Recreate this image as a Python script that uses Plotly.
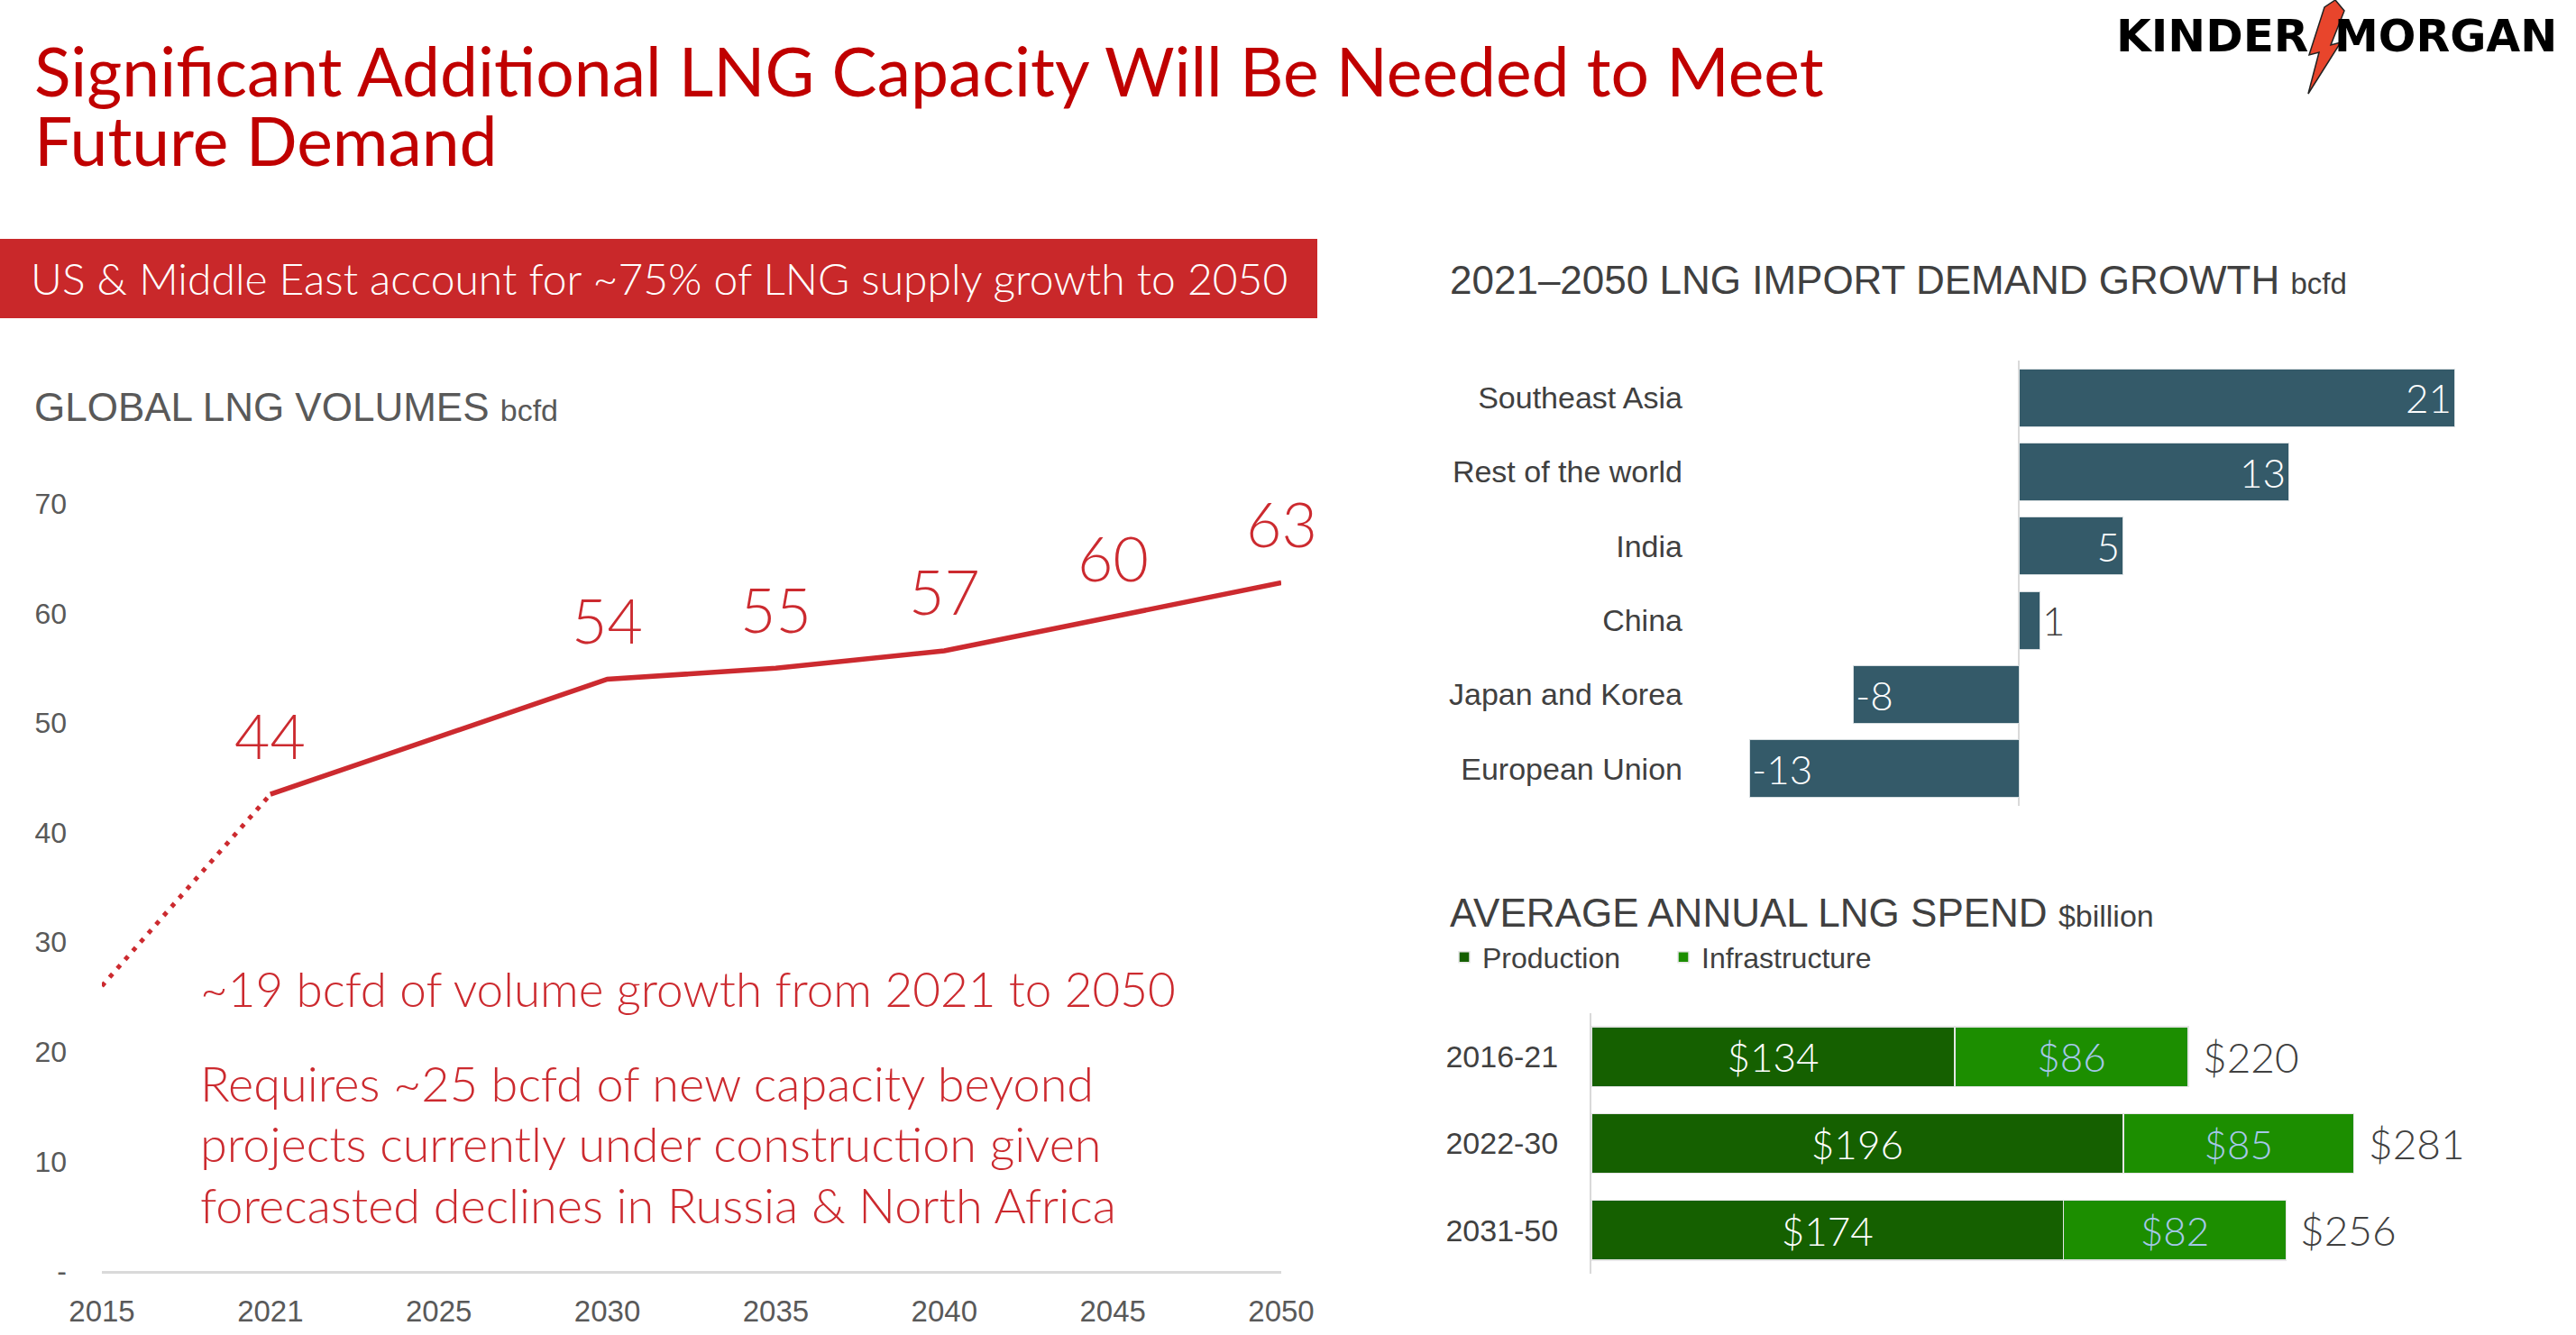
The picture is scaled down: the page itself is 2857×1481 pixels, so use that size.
import plotly.graph_objects as go

# ---------------- data ----------------
years = ["2015", "2021", "2025", "2030", "2035", "2040", "2045", "2050"]
volumes = [26.0, 43.5, 48.8, 54.0, 55.0, 56.6, 59.7, 62.8]
volume_labels = ["", "44", "", "54", "55", "57", "60", "63"]
y_tickvals = [0, 10, 20, 30, 40, 50, 60, 70]
y_ticktext = ["-", "10", "20", "30", "40", "50", "60", "70"]

regions = ["Southeast Asia", "Rest of the world", "India", "China", "Japan and Korea", "European Union"]
demand_growth = [21, 13, 5, 1, -8, -13]

periods = ["2016-21", "2022-30", "2031-50"]
production = [134, 196, 174]
infrastructure = [86, 85, 82]
totals = [220, 281, 256]

# ---------------- style ----------------
W, H = 2857, 1481
def px(x): return x / W
def py(y): return 1 - y / H

RED = "#CC2A2F"
TITLE_RED = "#C00000"
TEAL = "#345A69"
DKGREEN = "#156000"
LTGREEN = "#1C8E00"
GRAY = "#595959"
DGRAY = "#404040"
CAL = "Lato"
ARIAL = "Liberation Sans, Arial, sans-serif"

fig = go.Figure()

# --- left line chart ---
fig.add_trace(go.Scatter(x=years[:2], y=volumes[:2], mode="lines",
                         line=dict(color=RED, width=5, dash="5px,8px"),
                         xaxis="x", yaxis="y", showlegend=False, hoverinfo="skip"))
fig.add_trace(go.Scatter(x=years[1:], y=volumes[1:], mode="lines",
                         line=dict(color=RED, width=5.5),
                         xaxis="x", yaxis="y", showlegend=False))
for i, (v, lab) in enumerate(zip(volumes, volume_labels)):
    if lab:
        fig.add_annotation(x=i, y=v, xref="x", yref="y", text=lab, showarrow=False,
                           yshift=66, font=dict(family=CAL, size=68, color=RED, weight=300))

# --- demand growth bars ---
fig.add_trace(go.Bar(
    x=demand_growth, y=regions, orientation="h", width=0.78,
    marker=dict(color=TEAL, line=dict(color="#D6DDE0", width=1)),
    text=[str(v) for v in demand_growth],
    textposition=["outside" if abs(v) < 3 else "inside" for v in demand_growth],
    insidetextanchor="end",
    insidetextfont=dict(family=CAL, size=44, color="white", weight=300),
    outsidetextfont=dict(family=CAL, size=44, color=DGRAY, weight=300),
    cliponaxis=False, xaxis="x2", yaxis="y2", showlegend=False))

# --- spend stacked bars ---
fig.add_trace(go.Bar(
    x=production, y=periods, orientation="h", width=0.69, name="Production",
    marker=dict(color=DKGREEN, line=dict(color="#E6E6E6", width=1.5)),
    text=["$" + str(v) for v in production], textposition="inside",
    insidetextanchor="middle",
    insidetextfont=dict(family=CAL, size=44, color="white", weight=300),
    xaxis="x3", yaxis="y3"))
fig.add_trace(go.Bar(
    x=infrastructure, y=periods, orientation="h", width=0.69, name="Infrastructure",
    marker=dict(color=LTGREEN, line=dict(color="#E6E6E6", width=1.5)),
    text=["$" + str(v) for v in infrastructure], textposition="inside",
    insidetextanchor="middle",
    insidetextfont=dict(family=CAL, size=44, color="#A6C8EA", weight=300),
    xaxis="x3", yaxis="y3"))
for p, t in zip(periods, totals):
    fig.add_annotation(x=t, y=p, xref="x3", yref="y3", text="$" + str(t), showarrow=False,
                       xanchor="left", xshift=14,
                       font=dict(family=CAL, size=46, color=DGRAY, weight=300))

# ---------------- layout ----------------
fig.update_layout(
    width=W, height=H, margin=dict(l=0, r=0, t=0, b=0, pad=0, autoexpand=False),
    paper_bgcolor="white", plot_bgcolor="white",
    barmode="stack",
    showlegend=True,
    legend=dict(orientation="h", x=px(1604), y=py(1062), xanchor="left", yanchor="middle",
                font=dict(family=ARIAL, size=32, color=DGRAY), traceorder="normal",
                itemwidth=30, entrywidth=198, bgcolor="rgba(0,0,0,0)"),
    xaxis=dict(domain=[px(113), px(1421)], type="category", range=[0, 7],
               showline=True, linecolor="#D9D9D9", linewidth=3, ticks="",
               showgrid=False, zeroline=False, anchor="y", automargin=False,
               tickfont=dict(family=ARIAL, size=33, color=GRAY), ticklabelstandoff=13),
    yaxis=dict(domain=[py(1410), py(559)], range=[0, 70], tickvals=y_tickvals, ticktext=y_ticktext,
               showgrid=False, zeroline=False, showline=False, ticks="", anchor="x", automargin=False,
               tickfont=dict(family=ARIAL, size=32, color=GRAY), ticklabelstandoff=38),
    xaxis2=dict(domain=[px(1871), px(2791)], range=[-16, 24], showticklabels=False,
                showgrid=False, zeroline=True, zerolinecolor="#D9D9D9", zerolinewidth=2,
                anchor="y2", automargin=False),
    yaxis2=dict(domain=[py(894), py(400)], type="category", categoryarray=regions,
                range=[5.5, -0.5], showgrid=False, zeroline=False, ticks="", anchor="x2",
                automargin=False,
                tickfont=dict(family=ARIAL, size=34, color=DGRAY), ticklabelstandoff=4),
    xaxis3=dict(domain=[px(1765), px(2758)], range=[0, 330], showticklabels=False,
                showgrid=False, zeroline=False, anchor="y3", automargin=False),
    yaxis3=dict(domain=[py(1413), py(1124)], type="category", categoryarray=periods,
                range=[2.5, -0.5], showgrid=False, zeroline=False, ticks="",
                showline=True, linecolor="#D9D9D9", linewidth=2, anchor="x3", automargin=False,
                tickfont=dict(family=ARIAL, size=34, color=DGRAY), ticklabelstandoff=28),
)

# banner
fig.add_shape(type="rect", xref="paper", yref="paper", x0=px(0), x1=px(1461), y0=py(353), y1=py(265),
              fillcolor="#C9282A", line=dict(width=0), layer="below")

def note(text, x, y, size, color, family=CAL, weight=400, anchor="left"):
    fig.add_annotation(x=px(x), y=py(y), xref="paper", yref="paper", text=text, showarrow=False,
                       xanchor=anchor, yanchor="middle", align="left",
                       font=dict(family=family, size=size, color=color, weight=weight))

# titles
note("Significant Additional LNG Capacity Will Be Needed to Meet", 36, 78, 75, TITLE_RED)
note("Future Demand", 36, 155, 75, TITLE_RED)
note("US &amp; Middle East account for ~75% of LNG supply growth to 2050", 32, 309, 48, "white", weight=300)

note("GLOBAL LNG VOLUMES <span style='font-size:34px'>bcfd</span>", 36, 452, 44, GRAY, family=ARIAL)
note("2021–2050 LNG IMPORT DEMAND GROWTH <span style='font-size:33px'>bcfd</span>", 1606, 310, 44, DGRAY, family=ARIAL)
note("AVERAGE ANNUAL LNG SPEND <span style='font-size:34px'>$billion</span>", 1606, 1012, 44, DGRAY, family=ARIAL)

# red commentary
note("~19 bcfd of volume growth from 2021 to 2050", 220, 1096, 53, RED, weight=300)
note("Requires ~25 bcfd of new capacity beyond", 220, 1201, 54, RED, weight=300)
note("projects currently under construction given", 220, 1268, 54, RED, weight=300)
note("forecasted declines in Russia &amp; North Africa", 220, 1336, 54, RED, weight=300)

# logo
note("<b>KINDER</b>", 2562, 40, 50, "black", family="DejaVu Sans", anchor="right")
note("<b>MORGAN</b>", 2587, 40, 49, "black", family="DejaVu Sans")
bolt = [(2590, 0), (2600, 12), (2585, 50), (2596, 47), (2560, 104), (2572, 58), (2561, 61), (2578, 8)]
path = "M " + " L ".join(f"{px(a):.5f},{py(b):.5f}" for a, b in bolt) + " Z"
fig.add_shape(type="path", xref="paper", yref="paper", path=path,
              fillcolor="#E8452C", line=dict(color="#222222", width=1.5))

fig.write_html("out.html", config={"displayModeBar": False},
               post_script="document.body.style.margin='0';document.body.style.overflow='hidden';")
